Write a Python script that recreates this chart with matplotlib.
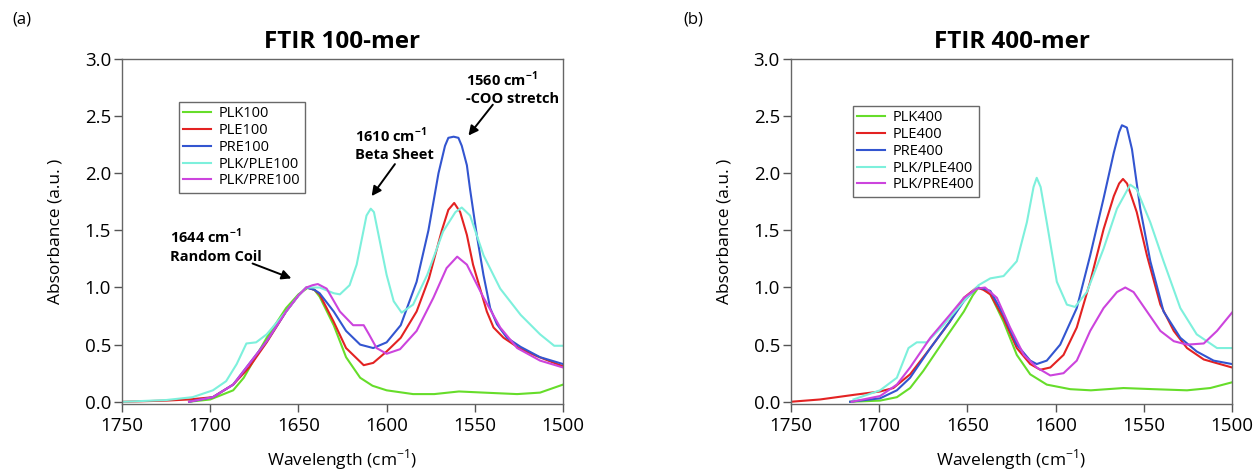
import matplotlib
matplotlib.use("Agg")
import matplotlib.pyplot as plt

plt.rcParams['font.family'] = ['Open Sans', 'DejaVu Sans']
plt.rcParams['mathtext.fontset'] = 'custom'
plt.rcParams['mathtext.rm'] = 'Open Sans'
plt.rcParams['mathtext.bf'] = 'Open Sans:bold'

# ---------------- Panel (a): 100-mer ----------------
plk100_x = [1712, 1700, 1687, 1681, 1668, 1657, 1650, 1644.5, 1641, 1638, 1630, 1623, 1615, 1608, 1600, 1585, 1573, 1559, 1545, 1526, 1513, 1500]
plk100_y = [0.0, 0.02, 0.10, 0.21, 0.56, 0.82, 0.94, 1.00, 0.98, 0.92, 0.67, 0.39, 0.21, 0.14, 0.10, 0.067, 0.067, 0.09, 0.08, 0.067, 0.08, 0.15]

ple100_x = [1749, 1725, 1712, 1698.5, 1687, 1678, 1668, 1657, 1650, 1645.5, 1641, 1638, 1630, 1623, 1613, 1607.6, 1600, 1592, 1583, 1576, 1568.7, 1565, 1561.7, 1558.3, 1554.5, 1551, 1547, 1543.2, 1539.4, 1533.7, 1525, 1515, 1500]
ple100_y = [0.0, 0.01, 0.02, 0.04, 0.15, 0.30, 0.52, 0.79, 0.93, 1.00, 0.98, 0.94, 0.70, 0.47, 0.32, 0.34, 0.44, 0.56, 0.79, 1.08, 1.50, 1.68, 1.74, 1.66, 1.46, 1.20, 0.99, 0.79, 0.65, 0.56, 0.47, 0.40, 0.31]

pre100_x = [1712, 1698.5, 1687, 1668, 1657, 1650, 1645.5, 1641, 1638, 1630, 1623, 1615, 1607.6, 1600, 1592, 1583, 1576.3, 1570.6, 1566.9, 1565, 1562, 1559.3, 1557.4, 1554.5, 1552.7, 1548.9, 1545.1, 1541.3, 1537.5, 1531.8, 1524, 1513, 1500]
pre100_y = [0.0, 0.04, 0.15, 0.53, 0.79, 0.93, 1.00, 0.98, 0.95, 0.79, 0.62, 0.50, 0.47, 0.52, 0.67, 1.05, 1.50, 2.00, 2.24, 2.31, 2.32, 2.31, 2.24, 2.07, 1.86, 1.46, 1.11, 0.82, 0.68, 0.56, 0.48, 0.39, 0.33]

plkple100_x = [1749, 1725, 1710, 1698.5, 1691, 1685, 1679.5, 1674, 1668, 1657, 1650, 1645.5, 1638, 1630, 1626.5, 1621, 1617, 1614, 1611.4, 1609, 1607.2, 1603.8, 1600, 1596, 1591.5, 1585, 1577, 1568, 1561, 1557.4, 1552.7, 1545, 1535.6, 1524, 1513, 1505, 1500]
plkple100_y = [0.0, 0.015, 0.04, 0.10, 0.18, 0.33, 0.51, 0.52, 0.59, 0.79, 0.93, 1.00, 1.00, 0.95, 0.94, 1.02, 1.20, 1.43, 1.63, 1.69, 1.66, 1.40, 1.11, 0.88, 0.78, 0.85, 1.11, 1.49, 1.66, 1.70, 1.63, 1.28, 0.99, 0.76, 0.59, 0.49, 0.49]

plkpre100_x = [1712, 1698.5, 1687, 1668, 1657, 1650, 1645.5, 1642, 1639, 1634, 1626.5, 1619, 1613, 1610, 1605.7, 1600, 1592.4, 1583, 1573.5, 1566, 1560, 1554.5, 1545, 1535.6, 1526, 1513, 1500]
plkpre100_y = [0.0, 0.04, 0.15, 0.53, 0.79, 0.93, 1.00, 1.02, 1.03, 0.99, 0.79, 0.67, 0.67, 0.59, 0.47, 0.42, 0.46, 0.62, 0.91, 1.17, 1.27, 1.20, 0.91, 0.65, 0.47, 0.36, 0.30]

# ---------------- Panel (b): 400-mer ----------------
plk400_x = [1716.5, 1699.5, 1690, 1682.5, 1675, 1663.6, 1652, 1647, 1643.7, 1640, 1637, 1629.5, 1622, 1614.4, 1605, 1591.7, 1580, 1561.5, 1544.4, 1525.5, 1512.3, 1500]
plk400_y = [0.0, 0.01, 0.04, 0.12, 0.27, 0.53, 0.79, 0.93, 1.00, 0.98, 0.94, 0.70, 0.41, 0.24, 0.15, 0.11, 0.10, 0.12, 0.11, 0.10, 0.12, 0.17]

ple400_x = [1750, 1733.5, 1714.6, 1699.5, 1692, 1682.5, 1671, 1660, 1652, 1644.7, 1641, 1637, 1629.5, 1622, 1614.4, 1608.7, 1603, 1595.5, 1588, 1580.4, 1572.8, 1567, 1564, 1561.8, 1559.5, 1557.7, 1554, 1548.2, 1540.6, 1533, 1525.5, 1516, 1500]
ple400_y = [0.0, 0.02, 0.06, 0.09, 0.12, 0.24, 0.47, 0.70, 0.91, 1.00, 0.98, 0.94, 0.73, 0.47, 0.33, 0.28, 0.30, 0.41, 0.65, 1.05, 1.51, 1.80, 1.91, 1.95, 1.91, 1.83, 1.66, 1.28, 0.85, 0.62, 0.47, 0.37, 0.30]

pre400_x = [1716.5, 1699.5, 1690, 1682.5, 1671, 1660, 1652, 1644.7, 1641, 1637, 1629.5, 1622, 1614.4, 1610.7, 1605, 1597.4, 1588, 1580.4, 1572.8, 1567, 1564, 1562.4, 1559.6, 1556.7, 1552, 1546.3, 1538.8, 1529.3, 1520, 1510.4, 1500]
pre400_y = [0.0, 0.03, 0.10, 0.21, 0.47, 0.70, 0.88, 1.00, 0.99, 0.97, 0.76, 0.50, 0.36, 0.33, 0.36, 0.50, 0.82, 1.28, 1.78, 2.18, 2.36, 2.42, 2.40, 2.21, 1.69, 1.23, 0.79, 0.56, 0.44, 0.36, 0.33]

plkple400_x = [1714.6, 1699.5, 1690, 1683.4, 1678.7, 1673, 1663.6, 1652, 1643.7, 1637, 1629.5, 1622, 1616.3, 1612.5, 1610.7, 1608.5, 1605, 1599.3, 1593.6, 1589, 1582.3, 1572.8, 1565.2, 1557.7, 1554, 1546.3, 1538.8, 1529.3, 1520, 1508.5, 1500]
plkple400_y = [0.02, 0.10, 0.21, 0.47, 0.52, 0.52, 0.67, 0.88, 1.02, 1.08, 1.10, 1.23, 1.57, 1.88, 1.96, 1.88, 1.57, 1.05, 0.85, 0.83, 0.96, 1.34, 1.69, 1.90, 1.86, 1.57, 1.23, 0.82, 0.59, 0.47, 0.47]

plkpre400_x = [1715.6, 1699.5, 1690, 1682.5, 1671, 1660, 1652, 1644.7, 1640, 1633.3, 1625.8, 1618, 1610.7, 1603, 1595.5, 1588, 1580.4, 1572.8, 1565.2, 1560.5, 1555.8, 1548.2, 1540.6, 1533, 1525.5, 1516, 1508.5, 1500]
plkpre400_y = [0.0, 0.05, 0.15, 0.30, 0.56, 0.76, 0.91, 0.99, 1.00, 0.91, 0.65, 0.41, 0.30, 0.23, 0.25, 0.36, 0.62, 0.82, 0.96, 1.00, 0.96, 0.79, 0.62, 0.53, 0.50, 0.51, 0.62, 0.78]

labels_a = ['PLK100', 'PLE100', 'PRE100', 'PLK/PLE100', 'PLK/PRE100']
labels_b = ['PLK400', 'PLE400', 'PRE400', 'PLK/PLE400', 'PLK/PRE400']
colors = ['#66dd2a', '#e32222', '#3355d0', '#7df0dc', '#cc44dd']

x_ticks = [1750, 1700, 1650, 1600, 1550, 1500]
y_ticks = [0.0, 0.5, 1.0, 1.5, 2.0, 2.5, 3.0]

series_a = [(plk100_x, plk100_y), (ple100_x, ple100_y), (pre100_x, pre100_y),
            (plkple100_x, plkple100_y), (plkpre100_x, plkpre100_y)]
series_b = [(plk400_x, plk400_y), (ple400_x, ple400_y), (pre400_x, pre400_y),
            (plkple400_x, plkple400_y), (plkpre400_x, plkpre400_y)]

fig = plt.figure(figsize=(12.57, 4.72), dpi=100)
ax_a = fig.add_axes([0.0971, 0.144, 0.3508, 0.731])
ax_b = fig.add_axes([0.6293, 0.144, 0.3508, 0.731])

def style(ax, series, labels, title, legend_anchor):
    for (xs, ys), lab, c in zip(series, labels, colors):
        ax.plot(xs, ys, color=c, lw=1.5, label=lab, solid_joinstyle='round')
    ax.set_xlim(1750, 1500)
    ax.set_ylim(-0.02, 3.0)
    ax.set_xticks(x_ticks)
    ax.set_yticks(y_ticks)
    ax.set_yticklabels([f"{v:.1f}" for v in y_ticks])
    ax.tick_params(direction='out', length=6, width=1, colors='#555555',
                   labelcolor='black', labelsize=13.5)
    ax.tick_params(axis='x', pad=3)
    ax.tick_params(axis='y', pad=2)
    for s in ax.spines.values():
        s.set_color('#666666')
        s.set_linewidth(1.0)
    ax.set_title(title, fontsize=17.5, fontweight='bold', pad=8)
    ax.set_xlabel('Wavelength (cm$^{\\mathregular{-1}}$)', fontsize=12.5, labelpad=9)
    ax.set_ylabel('Absorbance (a.u. )', fontsize=12.5, labelpad=15)
    leg = ax.legend(loc='upper left', bbox_to_anchor=legend_anchor,
                    bbox_transform=fig.transFigure, fontsize=10.5, frameon=True,
                    fancybox=False, handlelength=1.9, handletextpad=0.55,
                    borderpad=0.3, labelspacing=0.12, borderaxespad=0)
    leg.get_frame().set_edgecolor('#444444')
    leg.get_frame().set_linewidth(1.0)

style(ax_a, series_a, labels_a, 'FTIR 100-mer', (179 / 1257, 1 - 102 / 472))
style(ax_b, series_b, labels_b, 'FTIR 400-mer', (853 / 1257, 1 - 106 / 472))

arrow_kw = dict(arrowprops=dict(arrowstyle='-|>', color='black', lw=1.4,
                                mutation_scale=14, shrinkA=0, shrinkB=0))
txt_kw = dict(fontsize=10.5, fontweight='bold', ha='left', va='top', linespacing=1.3)

ax_a.annotate('', xy=(1654, 1.08), xytext=(1676, 1.21), **arrow_kw)
ax_a.text(1723, 1.53, '1644 cm$^{\\mathbf{-1}}$\nRandom Coil', **txt_kw)
ax_a.annotate('', xy=(1608.5, 1.80), xytext=(1595.3, 2.08), **arrow_kw)
ax_a.text(1618, 2.42, '1610 cm$^{\\mathbf{-1}}$\nBeta Sheet', **txt_kw)
ax_a.annotate('', xy=(1553.6, 2.33), xytext=(1539.8, 2.60), **arrow_kw)
ax_a.text(1555, 2.91, '1560 cm$^{\\mathbf{-1}}$\n-COO stretch', **txt_kw)

fig.text(12 / 1257, 1 - 20 / 472, '(a)', fontsize=12, va='center', ha='left')
fig.text(683 / 1257, 1 - 20 / 472, '(b)', fontsize=12, va='center', ha='left')

fig.savefig('out.png', dpi=100)
